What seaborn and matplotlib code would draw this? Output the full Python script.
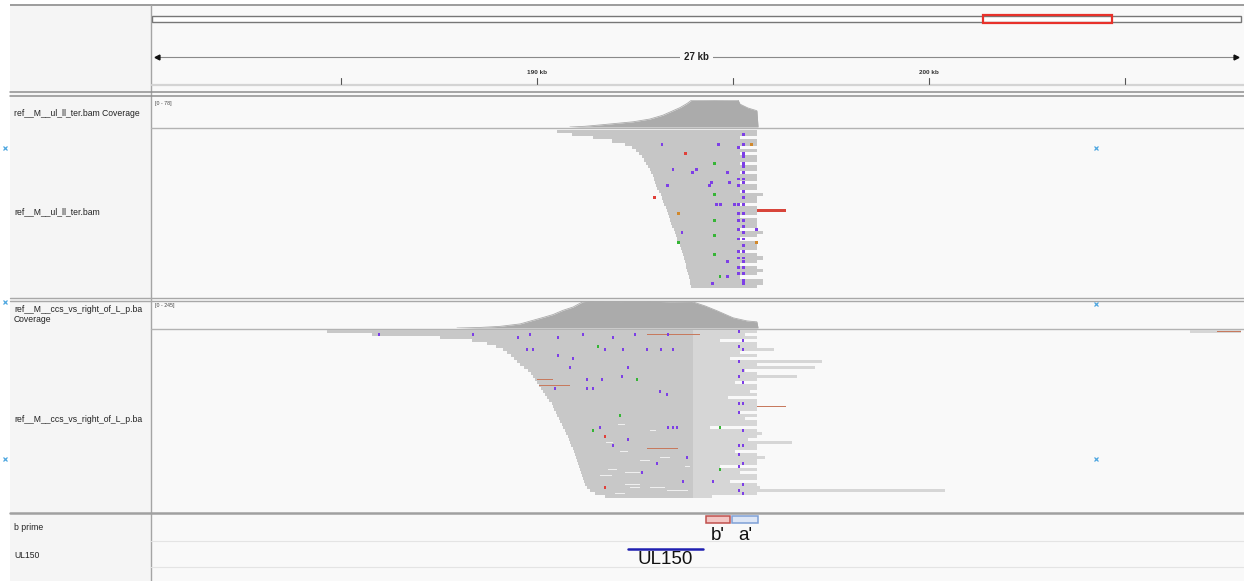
import numpy as np
import pandas as pd
import matplotlib
matplotlib.use("Agg")
import matplotlib.pyplot as plt
from matplotlib.patches import Rectangle
import seaborn as sns

# ------------------------------------------------------------------ data
chrom_length_kb = 236.0
view_start_kb = 180.18
view_end_kb = 207.96
ruler_major_kb = [190, 200]
ruler_major_labels = ["190 kb", "200 kb"]
ruler_minor_kb = [185, 195, 205]
span_label = "27 kb"

track_labels = ["ref__M__ul_ll_ter.bam Coverage", "ref__M__ul_ll_ter.bam",
                "ref__M__ccs_vs_right_of_L_p.ba\nCoverage", "ref__M__ccs_vs_right_of_L_p.ba",
                "b prime", "UL150"]
cov1_range_label = "[0 - 78]"
cov2_range_label = "[0 - 245]"

cov1_pos_kb = [190.84, 191.22, 191.61, 192.45, 192.88, 193.21, 193.47, 193.65, 193.83, 193.95,
               194.54, 195.13, 195.18, 195.38, 195.61, 195.64]
cov1_depth = [0, 2, 6, 15, 23, 34, 47, 56, 68, 78, 77, 78, 66, 55, 47, 0]
cov1_max = 78

cov2_pos_kb = [187.96, 188.55, 189.06, 189.57, 189.90, 190.20, 190.41, 190.66, 190.92, 191.17,
               191.35, 192.12, 192.88, 193.39, 193.95, 194.29, 194.59, 195.00, 195.36, 195.61, 195.64]
cov2_depth = [0, 5, 15, 37, 70, 100, 122, 160, 190, 238, 245, 240, 243, 238, 240, 200, 157, 93, 64, 56, 0]
cov2_max = 245

# track 1 reads (one row each)
reads1_start_kb = [190.51, 190.89, 191.43, 191.91, 192.24, 192.42, 192.53, 192.60, 192.68, 192.73,
                   192.78, 192.83, 192.88, 192.91, 192.96, 192.98, 193.01, 193.04, 193.06, 193.11,
                   193.16, 193.19, 193.21, 193.24, 193.29, 193.32, 193.34, 193.37, 193.39, 193.42,
                   193.44, 193.49, 193.52, 193.55, 193.57, 193.60, 193.65, 193.67, 193.70, 193.72,
                   193.75, 193.78, 193.80, 193.80, 193.83, 193.85, 193.88, 193.90, 193.90, 193.93]
reads1_end_kb = [195.62, 195.62, 195.18, 195.62, 195.62, 195.18, 195.62, 195.18, 195.62, 195.62,
                 195.18, 195.62, 195.62, 195.18, 195.62, 195.62, 195.18, 195.62, 195.62, 195.18,
                 195.77, 195.62, 195.62, 195.18, 195.62, 195.62, 195.62, 195.18, 195.62, 195.62,
                 195.62, 195.18, 195.77, 195.62, 195.18, 195.62, 195.62, 195.62, 195.18, 195.62,
                 195.77, 195.62, 195.18, 195.62, 195.77, 195.62, 195.18, 195.77, 195.77, 195.62]
clip1_row = [25]
clip1_start_kb = [195.62]
clip1_end_kb = [196.35]

mm1_kb = [195.26] * 25 + [195.15] * 12 + [
    193.19, 194.64, 195.48, 193.78, 193.47, 193.98, 194.08, 194.41, 194.46, 193.34,
    194.85, 194.92, 194.54, 194.57, 194.69, 195.05, 193.70, 194.49, 194.85, 194.85,
    194.54, 194.54, 194.54, 194.54, 194.67, 193.01, 193.60, 193.62, 195.61, 195.60]
mm1_row = [1, 4, 7, 8, 10, 11, 13, 15, 16, 19, 21, 23, 26, 28, 30, 32, 34, 36, 38, 40, 41, 43, 45, 47, 48,
           5, 15, 17, 23, 26, 28, 31, 34, 38, 40, 43, 45,
           4, 4, 4, 7, 12, 13, 12, 17, 16, 17,
           13, 16, 10, 23, 23, 23, 32, 48, 41, 46,
           20, 28, 33, 39, 46, 21, 26, 35, 31, 35]
mm1_base = ["ins"] * 37 + [
    "ins", "ins", "G", "T", "ins", "ins", "ins", "ins", "ins", "ins",
    "ins", "ins", "A", "ins", "ins", "ins", "ins", "ins", "ins", "ins",
    "A", "A", "A", "A", "A", "T", "G", "A", "ins", "G"]

# track 2 reads
reads2_start_kb = [184.64, 185.79, 187.53, 188.34, 188.72, 188.95, 189.13, 189.23, 189.34, 189.41,
                   189.49, 189.57, 189.67, 189.77, 189.85, 189.90, 189.95, 190.00, 190.05, 190.10,
                   190.15, 190.20, 190.26, 190.31, 190.38, 190.41, 190.43, 190.48, 190.51, 190.56,
                   190.59, 190.64, 190.66, 190.71, 190.74, 190.79, 190.82, 190.84, 190.87, 190.92,
                   190.94, 190.97, 190.99, 191.02, 191.05, 191.07, 191.10, 191.12, 191.15, 191.17,
                   191.20, 191.22, 191.28, 191.35, 191.48, 191.73]
reads2_primary_end_kb = 193.98
reads2_end_kb = [195.62, 195.31, 195.62, 194.67, 195.62, 195.62, 196.05, 195.18, 195.62, 194.92,
                 197.27, 195.62, 197.09, 195.31, 195.62, 196.63, 195.62, 195.05, 195.62, 195.62,
                 195.43, 195.62, 194.87, 195.62, 195.62, 195.62, 195.62, 195.18, 195.62, 195.31,
                 195.62, 195.62, 194.41, 195.62, 195.74, 195.62, 195.38, 196.51, 195.62, 195.62,
                 195.05, 195.62, 195.82, 195.62, 195.62, 194.67, 195.62, 195.18, 195.62, 195.62,
                 194.92, 195.62, 195.69, 200.41, 195.62, 194.46]
extra2_row = [0]
extra2_start_kb = [206.66]
extra2_end_kb = [207.96]
clip2_row = [25, 0, 1, 16, 18, 39]
clip2_start_kb = [195.62, 207.35, 192.81, 190.00, 190.05, 192.81]
clip2_end_kb = [196.35, 207.96, 194.16, 190.41, 190.84, 193.60]
del2_row = [46, 47, 52, 52, 53, 40, 43, 51, 31, 37, 42, 48, 54, 33, 45]
del2_start_kb = [191.81, 192.24, 192.37, 192.88, 193.32, 192.12, 192.63, 192.24, 192.07, 191.76,
                 193.14, 191.61, 191.99, 192.88, 193.78]
del2_end_kb = [192.04, 192.63, 192.63, 193.27, 193.85, 192.32, 192.88, 192.63, 192.24, 191.94,
               193.39, 191.91, 192.24, 193.04, 193.90]

mm2_kb = [195.15, 195.26] * 10 + [
    185.97, 188.37, 189.52, 189.82, 190.54, 191.17, 191.94, 192.50, 193.34, 189.74,
    189.90, 190.54, 190.92, 191.56, 191.73, 192.19, 192.81, 193.16, 193.47, 190.84,
    192.32, 191.28, 191.66, 192.17, 192.55, 190.46, 191.28, 191.43, 193.14, 193.32,
    191.61, 191.73, 191.94, 192.12, 192.32, 193.06, 193.34, 193.47, 193.57, 191.43,
    191.73, 193.83, 193.72, 192.68, 194.67, 194.49, 194.67]
mm2_row = [0, 3, 5, 6, 10, 13, 15, 17, 24, 24, 27, 33, 38, 38, 41, 44, 45, 51, 53, 54,
           1, 1, 2, 1, 2, 1, 2, 1, 1, 6,
           6, 8, 9, 5, 6, 6, 6, 6, 6, 12,
           12, 16, 16, 15, 16, 19, 19, 19, 20, 21,
           32, 35, 38, 28, 36, 44, 32, 32, 32, 33,
           52, 42, 50, 47, 46, 50, 32]
mm2_base = ["ins"] * 20 + [
    "ins", "ins", "ins", "ins", "ins", "ins", "ins", "ins", "ins", "ins",
    "ins", "ins", "ins", "A", "ins", "ins", "ins", "ins", "ins", "ins",
    "ins", "ins", "ins", "ins", "A", "ins", "ins", "ins", "ins", "ins",
    "ins", "T", "ins", "A", "ins", "ins", "ins", "ins", "ins", "A",
    "T", "ins", "ins", "ins", "A", "ins", "A"]

feature_names = ["b'", "a'"]
feature_start_kb = [194.31, 194.97]
feature_end_kb = [194.92, 195.64]
gene_name = "UL150"
gene_start_kb = 192.32
gene_end_kb = 194.23

# ------------------------------------------------------------------ style
sns.set_theme(style="white")
plt.rcParams["font.family"] = ["Liberation Sans", "DejaVu Sans"]

W, H = 1244, 581
fig = plt.figure(figsize=(W / 100, H / 100), dpi=100)
fig.patch.set_facecolor("white")

def add_ax(x0, y0, x1, y1):
    ax = fig.add_axes([x0 / W, 1 - y1 / H, (x1 - x0) / W, (y1 - y0) / H])
    ax.set_axis_off()
    return ax

DATA_BG = "#f9f9f9"
NAME_BG = "#f5f5f5"
X0, X1 = 152, 1241

# background / frame
bg = add_ax(0, 0, W, H)
bg.set_xlim(0, W)
bg.set_ylim(H, 0)
bg.add_patch(Rectangle((10, 5), W - 10, H - 5, facecolor=DATA_BG, edgecolor="none"))
bg.add_patch(Rectangle((10, 5), 141, H - 5, facecolor=NAME_BG, edgecolor="none"))
hl = dict(color="#9c9c9c", lw=1.4, solid_capstyle="butt")
bg.plot([10, W], [5, 5], **hl)
bg.plot([151, 151], [5, H], color="#a5a5a5", lw=1.0)
bg.plot([152, W], [84.5, 84.5], color="#d4d4d4", lw=1.6)
for y in (92, 96):
    bg.plot([10, W], [y, y], color="#8e8e8e", lw=1.1)
for y in (297.5, 300.5):
    bg.plot([10, W], [y, y], color="#a8a8a8", lw=1.0)
bg.plot([10, W], [513, 513], color="#a0a0a0", lw=1.8)
bg.plot([151, W], [127.5, 127.5], color="#b3b3b3", lw=1.0)
bg.plot([151, W], [328.5, 328.5], color="#b3b3b3", lw=1.0)
for y in (541, 567):
    bg.plot([151, W], [y, y], color="#e4e4e4", lw=0.8)

label_y = [113, 212, 314.5, 420, 528, 555]
for txt, y in zip(track_labels, label_y):
    bg.text(14, y, txt, fontsize=6.2, color="#222222", va="center", ha="left", linespacing=1.25)
bg.text(155, 104, cov1_range_label, fontsize=3.8, color="#444444", va="center")
bg.text(155, 305, cov2_range_label, fontsize=3.8, color="#444444", va="center")
for (x, y) in [(5, 148), (5, 302), (5, 459), (1096, 148), (1096, 304), (1096, 459)]:
    bg.plot(x, y, marker="x", ms=3.2, mew=0.9, color="#4da6e0")

# ideogram
ideo = add_ax(X0, 10, X1 + 2, 28)
ideo.set_xlim(0, chrom_length_kb * (X1 + 2 - X0) / (X1 - X0))
ideo.set_ylim(28, 10)
ideo.add_patch(Rectangle((0, 16), chrom_length_kb, 6, facecolor="white", edgecolor="#777777", lw=1.0))
ideo.add_patch(Rectangle((view_start_kb, 15.3), view_end_kb - view_start_kb, 7.4,
                         facecolor="none", edgecolor="#e8322b", lw=1.6))

# ruler
rul = add_ax(X0, 40, X1, 90)
rul.set_xlim(view_start_kb, view_end_kb)
rul.set_ylim(90, 40)
rul.plot([view_start_kb + 0.15, view_end_kb - 0.15], [57, 57], color="#8a8a8a", lw=0.8)
rul.plot(view_start_kb + 0.12, 57, marker="<", ms=3.5, color="#111111")
rul.plot(view_end_kb - 0.12, 57, marker=">", ms=3.5, color="#111111")
mid = (view_start_kb + view_end_kb) / 2
rul.text(mid, 57, span_label, fontsize=7, fontweight="bold", ha="center", va="center",
         color="#222222", bbox=dict(boxstyle="square,pad=0.45", fc=DATA_BG, ec="none"))
for t in ruler_major_kb + ruler_minor_kb:
    rul.plot([t, t], [78, 84], color="#555555", lw=0.8)
for t, lab in zip(ruler_major_kb, ruler_major_labels):
    rul.text(t, 72, lab, fontsize=4.6, fontweight="bold", ha="center", va="center", color="#333333")

# coverage tracks
COV_COLOR = "#ababab"
def coverage(y0, y1, pos, depth, dmax):
    ax = add_ax(X0, y0, X1, y1)
    ax.set_xlim(view_start_kb, view_end_kb)
    ax.set_ylim(0, dmax)
    df = pd.DataFrame({"pos": pos, "depth": depth})
    ax.fill_between(df["pos"], 0, df["depth"], color=COV_COLOR, lw=0)
    sns.lineplot(data=df, x="pos", y="depth", ax=ax, color=COV_COLOR, lw=0.6)
    ax.set_axis_off()
    return ax

coverage(100, 127, cov1_pos_kb, cov1_depth, cov1_max)
coverage(301, 328, cov2_pos_kb, cov2_depth, cov2_max)

BASE_COLORS = {"ins": "#7d3fe6", "A": "#35b535", "T": "#e0403a", "G": "#d1882c", "C": "#3a3ae0"}

def reads_axis(y0, y1, n):
    ax = add_ax(X0, y0, X1, y1)
    ax.set_xlim(view_start_kb, view_end_kb)
    ax.set_ylim(n - 0.5, -0.5)
    return ax

# track 1 reads
n1 = len(reads1_start_kb)
r1 = reads_axis(130, 130 + n1 * 3.16, n1)
s1 = np.array(reads1_start_kb); e1 = np.array(reads1_end_kb)
r1.barh(np.arange(n1), e1 - s1, left=s1, height=1.0, color="#c6c6c6", lw=0)
r1.barh(clip1_row, np.array(clip1_end_kb) - np.array(clip1_start_kb), left=clip1_start_kb,
        height=0.9, color="#d8453b", lw=0)
mm1 = pd.DataFrame({"pos": mm1_kb, "row": mm1_row, "base": mm1_base})
sns.scatterplot(data=mm1, x="pos", y="row", hue="base", palette=BASE_COLORS, marker="s",
                s=4.5, linewidth=0, legend=False, ax=r1)
r1.set_axis_off()

# track 2 reads
n2 = len(reads2_start_kb)
r2 = reads_axis(330, 330 + n2 * 3.0, n2)
s2 = np.array(reads2_start_kb); e2 = np.array(reads2_end_kb)
r2.barh(np.arange(n2), e2 - reads2_primary_end_kb, left=reads2_primary_end_kb, height=0.7,
        color="#d6d6d6", lw=0)
r2.barh(np.arange(n2), reads2_primary_end_kb - s2, left=s2, height=1.0, color="#c8c8c8", lw=0)
r2.barh(extra2_row, np.array(extra2_end_kb) - np.array(extra2_start_kb), left=extra2_start_kb,
        height=0.7, color="#d6d6d6", lw=0)
r2.barh(del2_row, np.array(del2_end_kb) - np.array(del2_start_kb), left=del2_start_kb,
        height=0.55, color="#efefef", lw=0)
r2.barh(clip2_row, np.array(clip2_end_kb) - np.array(clip2_start_kb), left=clip2_start_kb,
        height=0.6, color="#c77a5e", lw=0)
mm2 = pd.DataFrame({"pos": mm2_kb, "row": mm2_row, "base": mm2_base})
sns.scatterplot(data=mm2, x="pos", y="row", hue="base", palette=BASE_COLORS, marker="s",
                s=2.2, linewidth=0, legend=False, ax=r2)
r2.set_axis_off()

# feature tracks
ft = add_ax(X0, 514, X1, 567)
ft.set_xlim(view_start_kb, view_end_kb)
ft.set_ylim(567, 514)
feat_face = ["#f3c6c4", "#dde6f6"]
feat_edge = ["#c0504d", "#7ea0d6"]
for i, (nm, a, b) in enumerate(zip(feature_names, feature_start_kb, feature_end_kb)):
    ft.add_patch(Rectangle((a, 516.5), b - a, 6.5, facecolor=feat_face[i], edgecolor=feat_edge[i], lw=1.1))
    ft.text((a + b) / 2, 535.5, nm, fontsize=13.5, ha="center", va="center", color="#111111")
ft.plot([gene_start_kb, gene_end_kb], [549, 549], color="#1f1fb0", lw=1.8)
ft.text((gene_start_kb + gene_end_kb) / 2, 560, gene_name, fontsize=13.5, ha="center",
        va="center", color="#111111")

fig.savefig("out.png", dpi=100, facecolor=fig.get_facecolor())
